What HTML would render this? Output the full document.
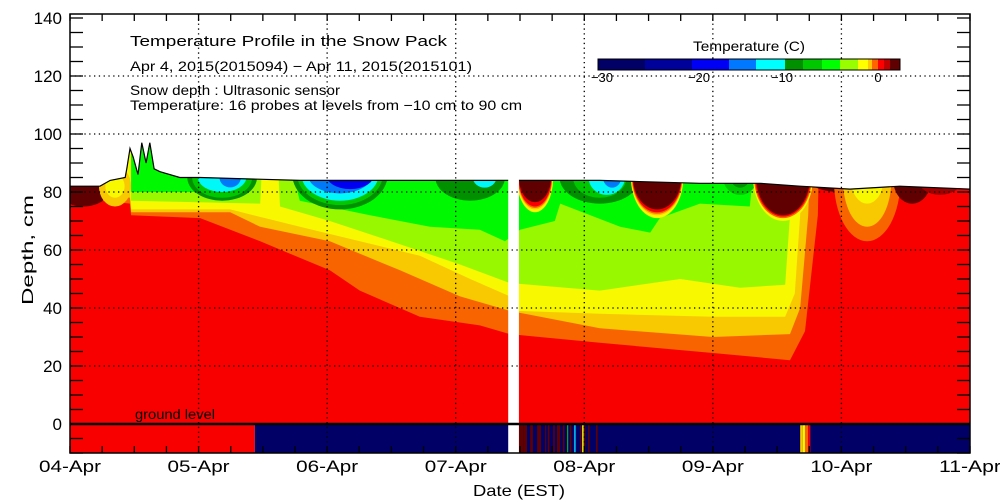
<!DOCTYPE html>
<html><head><meta charset="utf-8">
<style>
html,body{margin:0;padding:0;background:#fff;}
svg{display:block;font-family:"Liberation Sans",sans-serif;}
</style></head>
<body>
<svg id="chart" width="1000" height="500" viewBox="0 0 1000 500">
<defs><clipPath id="snowClip"><polygon id="snowClipPoly" points=""/></clipPath>
<clipPath id="plotClip"><rect x="70" y="14" width="900" height="439"/></clipPath></defs>
<g id="fills" clip-path="url(#plotClip)"></g>
<g id="ground" clip-path="url(#plotClip)"></g>
<g id="grid"></g>
<g id="axes"></g>
<text x="130" y="46" font-size="15" textLength="317" lengthAdjust="spacingAndGlyphs">Temperature Profile in the Snow Pack</text>
<text x="130" y="71" font-size="14" textLength="342" lengthAdjust="spacingAndGlyphs">Apr  4, 2015(2015094) − Apr 11, 2015(2015101)</text>
<text x="130" y="95" font-size="14" textLength="210" lengthAdjust="spacingAndGlyphs">Snow depth : Ultrasonic sensor</text>
<text x="130" y="110" font-size="14" textLength="392" lengthAdjust="spacingAndGlyphs">Temperature: 16 probes at levels from −10 cm to 90 cm</text>
<text x="135" y="419" font-size="14" textLength="80" lengthAdjust="spacingAndGlyphs">ground level</text>
<text x="693" y="51" font-size="14" textLength="112" lengthAdjust="spacingAndGlyphs">Temperature (C)</text>
<g id="cbar"></g>
<text x="473" y="496" font-size="16" textLength="92" lengthAdjust="spacingAndGlyphs">Date (EST)</text>
<text transform="translate(33,305) rotate(-90)" font-size="16" textLength="110" lengthAdjust="spacingAndGlyphs">Depth, cm</text>
</svg>
<script>
// ---- data (hours since 04-Apr 00:00, depth in cm) ----
const snowHours = [0,5.6,7.5,10.3,10.6,11.2,11.8,12.7,13.4,14.2,14.9,15.7,16.8,20.5,24.3,42.9,61.6,80.3,98.9,117.6,128.8,136.3,145.6,154.9,168];
const snowDepth = [82,82,84,85,88,95,92,86,97,90,97,88,87,85,85,84,84,84,84,83,83,82,81,82,81];

const redTopH = [0,5.6,5.6,11.2,11.4,24.3,35.5,48.5,54.1,65.3,76.5,82.1,98.9,120,134.4,137.2,139.6,140,168];
const redTopD = [110,110,77,76,72,71,63,53,46,37,34,31,28,24.5,22,32,72,110,110];
const orangeTopH = [0,5.6,5.6,11.2,11.4,29.9,35.5,48.5,61.6,72.8,82.1,98.9,120,134.4,136.3,137.8,138.5,168];
const orangeTopD = [110,110,79,78,73,73,68,63,53,44,39,33,30,31,40,72,110,110];
const yoTopH = [0,5.6,5.6,11.2,11.4,29.9,42.9,54.1,65.3,74.7,82.1,83.4,98.9,120,133.5,135.3,136.3,136.8,168];
const yoTopD = [110,110,81,80,74,74,68,63,58,50,44,39,38,37,37,45,72,110,110];
const yellowTopH = [0,11.4,11.4,35.5,36.4,38.3,39.2,48.5,61.6,72.8,82.1,98.9,113.9,125.1,133.5,134.4,134.8,168];
const yellowTopD = [110,110,77,76,110,110,75,70,62,55,48.6,46,50,47,48,72,110,110];
const greenTopH = [0,11.4,11.4,24.3,31.7,36.4,38.3,42.9,56,67.2,76.5,81.2,84,90.5,91.5,102.7,108.3,110.1,117.6,126.9,128.8,168];
const greenTopD = [110,110,80,80,78,110,110,77,72,68,67,63,67,70,76,68,66,71,76,75,110,110];

const blobHour  = [28.4,28.4,28.4,29.9, 50.4,50.4,50.4,50.4,52.3, 74.7,77.4, 98.9,98.9,100.2,101.2, 125.1,125.1,
  86.8,86.8,86.8,86.8,86.8, 109.6,109.6,109.6,109.6,109.6, 133.1,133.1,133.1,133.1,143.7,
  148.8,148.8,148.8, 157.2,162.4, 2.5, 8.4,8.4];
const blobDepth = [85,85,85,85, 86,86,86,86,86, 85,85, 85,85,85,85, 85,85,
  85,85,85,85,85, 85,85,85,85,85, 85,85,85,85,84,
  84,84,84, 84,84, 83, 82,82];
const blobRh    = [6.5,5.6,4.5,2.0, 8.9,8.0,7.2,6.0,4.5, 6.5,2.2, 7.5,5.0,3.4,1.7, 3.2,1.8,
  3.4,3.3,3.2,3.1,3.0, 4.9,4.8,4.7,4.6,4.5, 5.6,5.4,5.2,5.0,5.6,
  6.2,4.5,3, 3.5,4, 5.5, 3,1.8];
const blobRd    = [8,7,5,3.4, 12,10.5,9,6.5,5, 8,3.5, 9,7,6,3.5, 6,3.5,
  12,11,10.5,10,8.5, 14,13,12.5,12,11, 15,14,13.5,13,4,
  21,16,8, 8,5, 8, 7,4];
const blobColor = ['#009000','#00c800','#00f8f8','#0078f8', '#009000','#00c800','#00f8f8','#0078f8','#0000f0',
  '#009000','#00f8f8', '#009000','#00c800','#00f8f8','#0078f8', '#00c800','#009000',
  '#f8f800','#f8c800','#f86400','#f80000','#600000', '#f8f800','#f8c800','#f86400','#f80000','#600000',
  '#f8f800','#f86400','#f80000','#600000','#600000',
  '#f86400','#f8c800','#f8f800', '#600000','#a00000', '#600000', '#f8c800','#f8f800'];

const groundStart = [0,34.5,83.6,84.6,85.9,87.2,88.7,89.2,90.2,90.9,92.0,92.8,93.3,94.1,95.2,95.6,95.9,96.7,98.2,136.3,136.8,137.2,137.8];
const groundEnd   = [34.5,168,84.6,85.3,86.4,87.9,88.9,89.5,90.5,91.5,92.3,93.0,93.6,94.4,95.5,95.9,96.2,97.0,98.5,136.8,137.2,137.8,138.2];
const groundColor = ['#f80000','#000066','#600000','#600000','#600000','#600000','#600000','#600000','#600000','#600000','#600000','#00c800','#600000','#00c0f0','#600000','#f8f800','#600000','#600000','#600000','#f8c800','#f8f800','#f86400','#f80000'];

const gapStart = 81.8, gapEnd = 83.8;
const yTicks = [140,120,100,80,60,40,20,0];
const xTickLabels = ['04-Apr','05-Apr','06-Apr','07-Apr','08-Apr','09-Apr','10-Apr','11-Apr'];

const cbarColors = ['#000066','#00009a','#0000f5','#0078ff','#00ffff','#009000','#00c800','#00ff00','#99ff00','#ffff00','#ffc800','#ff6400','#ff0000','#c00000','#600000'];
const cbarLabels = [-30,-20,-10,0];

// ---- scales ----
const X = h => 70 + h/24*128.57;
const Y = d => 424 - d*2.9;
const NS='http://www.w3.org/2000/svg';
function mk(tag, attrs, parent){const e=document.createElementNS(NS,tag);for(const k in attrs)e.setAttribute(k,attrs[k]);parent.appendChild(e);return e;}

let sp = snowHours.map((h,i)=>X(h)+','+Y(snowDepth[i])).join(' ');
document.getElementById('snowClipPoly').setAttribute('points', sp+' '+X(168)+','+Y(0)+' '+X(0)+','+Y(0));

const fills = document.getElementById('fills');
const inner = mk('g',{'clip-path':'url(#snowClip)'},fills);


const base = mk('rect',{x:70,y:14,width:900,height:410,fill:'#f80000'},inner);



function band(hs, ds, color, name){
  let pts = hs.map((h,i)=>X(h)+','+Y(ds[i]));
  pts.push(X(hs[hs.length-1])+','+Y(120)); pts.push(X(hs[0])+','+Y(120));
  const p = mk('polygon',{points:pts.join(' '),fill:color},inner);
  
  
}
band(redTopH, redTopD, '#f86400', 'band-orange');
band(orangeTopH, orangeTopD, '#f8c800', 'band-yellow-orange');
band(yoTopH, yoTopD, '#f8f800', 'band-yellow');
band(yellowTopH, yellowTopD, '#98f800', 'band-light-green');
band(greenTopH, greenTopD, '#00f800', 'band-green');

for(let i=0;i<blobHour.length;i++){
  const rx = blobRh[i]/24*128.57, ry = blobRd[i]*2.9;
  const e = mk('ellipse',{cx:X(blobHour[i]),cy:Y(blobDepth[i]),rx:rx,ry:ry,fill:blobColor[i]},inner);
  
  
}
const sl = mk('polyline',{points:sp,fill:'none',stroke:'#000','stroke-width':1.2},fills);



const ground = document.getElementById('ground');
for(let i=0;i<groundStart.length;i++){
  const r = mk('rect',{x:X(groundStart[i]),y:Y(0),width:X(groundEnd[i])-X(groundStart[i]),height:Y(-10)-Y(0),fill:groundColor[i]},ground);
  
  
}
const gap = mk('rect',{x:X(gapStart),y:14,width:X(gapEnd)-X(gapStart),height:439,fill:'#fff'},ground);


const gl = mk('line',{x1:70,x2:970,y1:Y(0),y2:Y(0),stroke:'#000','stroke-width':2.5},ground);



const grid = document.getElementById('grid');
yTicks.forEach(v=>{ if(v===0||v===140) return;
  const l = mk('line',{x1:70,x2:970,y1:Y(v),y2:Y(v),stroke:'#000','stroke-width':1.3,'stroke-dasharray':'1.3 3.5'},grid);
  
  
});
xTickLabels.forEach((t,i)=>{ if(i===0||i===xTickLabels.length-1) return;
  const l = mk('line',{x1:X(i*24),x2:X(i*24),y1:14,y2:453,stroke:'#000','stroke-width':1.3,'stroke-dasharray':'1.3 3.5'},grid);
  
  
});

const axes = document.getElementById('axes');
const fr = mk('rect',{x:70,y:14,width:900,height:439,fill:'none',stroke:'#000','stroke-width':1.5},axes);


for(let v=-10; v<=140; v+=5){
  mk('line',{x1:70,x2:83,y1:Y(v),y2:Y(v),stroke:'#000','stroke-width':1.3},axes);
  mk('line',{x1:957,x2:970,y1:Y(v),y2:Y(v),stroke:'#000','stroke-width':1.3},axes);
}
for(let h=0; h<=168; h+=6){
  mk('line',{x1:X(h),x2:X(h),y1:453,y2:446,stroke:'#000','stroke-width':1.3},axes);
  mk('line',{x1:X(h),x2:X(h),y1:14,y2:21,stroke:'#000','stroke-width':1.3},axes);
}
yTicks.forEach(v=>{
  const t = mk('text',{x:62,y:Y(v)+6,'font-size':17,'text-anchor':'end'},axes);
  t.textContent = v;
  
  
});
xTickLabels.forEach((s,i)=>{
  const t = mk('text',{x:X(i*24)-31,y:472,'font-size':17,textLength:62,lengthAdjust:'spacingAndGlyphs'},axes);
  t.textContent = s;
  
  
});

const cbar = document.getElementById('cbar');
const cbPos = [598,645,692,729,756,785,803,822,840,858,868,872,878,884,890,900];
for(let i=0;i<cbarColors.length;i++){
  const r = mk('rect',{x:cbPos[i],y:59,width:cbPos[i+1]-cbPos[i]+0.5,height:11,fill:cbarColors[i]},cbar);
  
  
}
mk('rect',{x:598,y:59,width:302,height:11,fill:'none',stroke:'#000','stroke-width':1},cbar);
const lblX = {'-30':602,'-20':699,'-10':782,'0':878};
cbarLabels.forEach(v=>{
  const t = mk('text',{x:lblX[v],y:82,'font-size':13,'text-anchor':'middle'},cbar);
  t.textContent = v<0 ? '−'+Math.abs(v) : v;
  
  
});
</script>
</body></html>
